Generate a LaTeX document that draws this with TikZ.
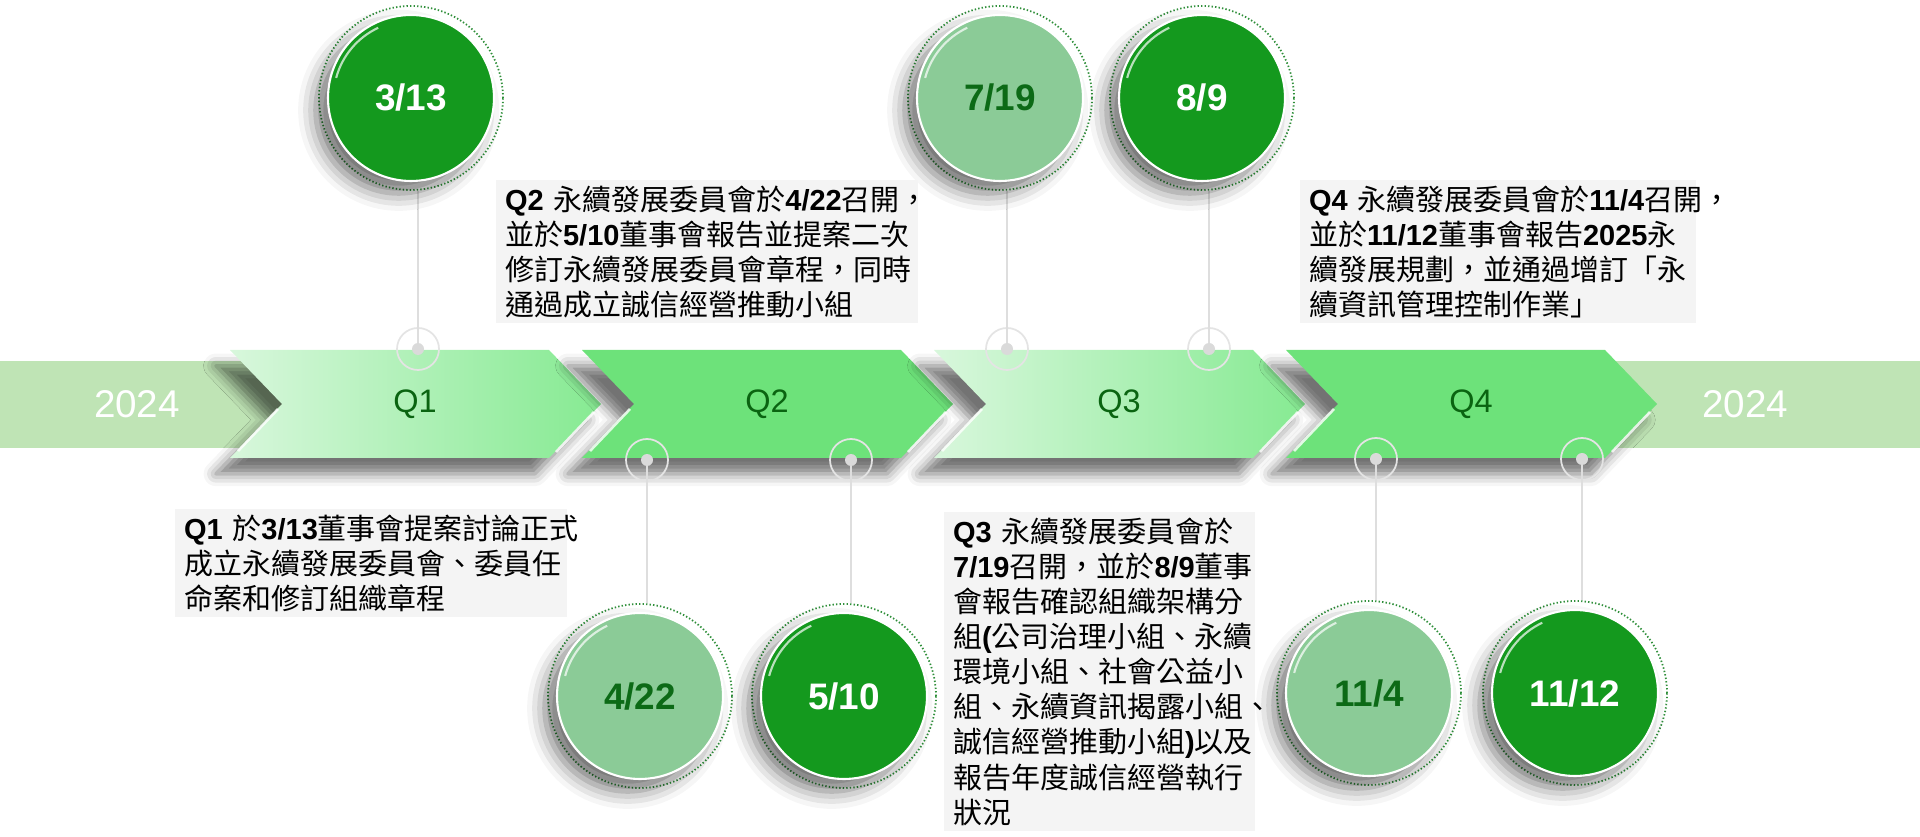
\documentclass[tikz,border=0pt]{standalone}
\usepackage{fontspec}
\setmainfont{Liberation Sans}
\newfontfamily\cjk{Noto Sans CJK TC}
\usetikzlibrary{shadows.blur,positioning}

\definecolor{bandc}{HTML}{BFE4B5}
\definecolor{chevlo}{HTML}{D8F7DC}
\definecolor{chevhi}{HTML}{86EA92}
\definecolor{chevmid}{HTML}{6DE27A}
\definecolor{qgreen}{HTML}{0A6411}
\definecolor{btndark}{HTML}{14991E}
\definecolor{btnlight}{HTML}{8BCB97}
\definecolor{datetxt}{HTML}{0C6A16}
\definecolor{ringgreen}{HTML}{2F8F3A}
\definecolor{ringgray}{HTML}{E4E4E4}
\definecolor{dotgray}{HTML}{DADADA}
\definecolor{stemgray}{HTML}{DEDEDE}
\definecolor{boxgray}{HTML}{F4F4F4}

\newcommand{\bnum}[1]{{\rmfamily\bfseries #1}}

\begin{document}
\begin{tikzpicture}[x=0.02cm, y=0.02cm,
    chevfade/.style={left color=chevlo, right color=chevhi},
    chevsolid/.style={fill=chevmid},
    chevshadow/.style={blur shadow={shadow xshift=-8pt, shadow yshift=-9pt,
        shadow blur radius=7pt, shadow opacity=55}},
    gloss/.style={white, line width=1.5pt, opacity=0.8},
    qlabel/.style={text=qgreen, font=\fontsize{18.5}{20}\selectfont},
    yearlabel/.style={text=white, font=\fontsize{22}{24}\selectfont},
    marker/.style={circle, draw=ringgray, line width=1pt, minimum size=0.84cm, inner sep=0pt},
    markdot/.style={fill=dotgray},
    stem/.style={draw=stemgray, line width=1pt},
    dotring/.style={circle, draw=ringgreen, dash pattern=on 0.8pt off 1.2pt,
        line width=1pt, minimum size=3.68cm, inner sep=0pt},
    datedark/.style={circle, minimum size=3.32cm, inner sep=0pt, fill=btndark,
        draw=white, line width=1.2pt, text=white,
        font=\fontsize{21}{24}\selectfont\bfseries,
        blur shadow={shadow xshift=-7pt, shadow yshift=-7pt,
            shadow blur radius=10pt, shadow opacity=55}},
    datelight/.style={datedark, fill=btnlight, text=datetxt},
    notebox/.style={fill=boxgray, anchor=north west, align=left,
        inner xsep=5pt, inner ysep=3pt, font=\cjk\fontsize{16.5}{20}\selectfont}
]
\useasboundingbox (0,0) rectangle (1920,-837);

% year band
\fill[bandc] (0,-361) rectangle (300,-448);
\fill[bandc] (1580,-361) rectangle (1920,-448);
\node[yearlabel] (yl) at (137,-404) {2024};
\node[yearlabel] (yr) at (1745,-404) {2024};

% quarters
\foreach \i/\L/\sty in {1/230/chevfade, 2/582/chevsolid, 3/934/chevfade, 4/1286/chevsolid} {
    \path[\sty, chevshadow] (\L,-350) -- ++(319,0) -- ++(52,-54) -- ++(-52,-54)
        -- ++(-319,0) -- ++(52,54) -- cycle;
    \draw[gloss] (\L+48,-409) -- (\L+8,-451);
    \draw[gloss] (\L+364,-412) -- (\L+326,-452);
    \node[qlabel] (q\i) at (\L+185,-404) {Q\i};
}

% dates
\foreach \n/\x/\y/\cy/\lbl/\sty/\side in {
    a/418/349/98/{3/13}/datedark/south,
    b/1007/349/98/{7/19}/datelight/south,
    c/1209/349/98/{8/9}/datedark/south,
    d/647/460/696/{4/22}/datelight/north,
    e/851/460/696/{5/10}/datedark/north,
    f/1376/459/693/{11/4}/datelight/north,
    g/1582/459/693/{11/12}/datedark/north} {
    \node[marker] (m\n) at (\x,-\y) {};
    \node[dotring] (o\n) at (\x-7,-\cy) {};
    \draw[stem] (m\n.center) -- (m\n.center |- o\n.\side);
    \node[\sty] (d\n) at (o\n) {\lbl};
    \draw[white, line width=1.2pt, opacity=0.7] (d\n.center) ++(115:1.55cm) arc (115:165:1.55cm);
    \fill[markdot] (m\n.center) circle (0.12cm);
}

% notes
\node[notebox, text width=7.49cm] (t1) at (175,-509)
    {\bnum{Q1}~於\bnum{3/13}董事會提案討論正式\\成立永續發展委員會、委員任\\命案和修訂組織章程};
\node[notebox, text width=8.09cm] (t2) at (496,-180)
    {\bnum{Q2}~永續發展委員會於\bnum{4/22}召開，\\並於\bnum{5/10}董事會報告並提案二次\\修訂永續發展委員會章程，同時\\通過成立誠信經營推動小組};
\node[notebox, text width=5.87cm] (t3) at (944,-512)
    {\bnum{Q3}~永續發展委員會於\\\bnum{7/19}召開，並於\bnum{8/9}董事\\會報告確認組織架構分\\組\bnum{(}公司治理小組、永續\\環境小組、社會公益小\\組、永續資訊揭露小組、\\誠信經營推動小組\bnum{)}以及\\報告年度誠信經營執行\\狀況};
\node[notebox, text width=7.57cm] (t4) at (1300,-180)
    {\bnum{Q4}~永續發展委員會於\bnum{11/4}召開，\\並於\bnum{11/12}董事會報告\bnum{2025}永\\續發展規劃，並通過增訂「永\\續資訊管理控制作業」};
\end{tikzpicture}
\end{document}
